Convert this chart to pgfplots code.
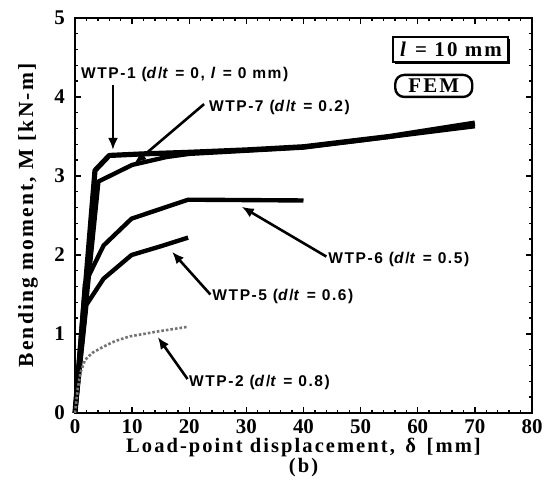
\documentclass[border=0pt]{standalone}
\usepackage{fontspec}
\setmainfont{Liberation Serif}
\setsansfont{Liberation Sans}
\newfontfamily\lblfont[LetterSpace=10]{Liberation Serif}
\newfontfamily\annfont[LetterSpace=10]{Liberation Sans}
\usepackage{pgfplots}
\pgfplotsset{compat=1.18}
\usetikzlibrary{arrows.meta,shadows}

\begin{document}
\begin{tikzpicture}
\begin{axis}[
  name=ax,
  scale only axis, width=228.5bp, height=197.5bp,
  xmin=0, xmax=80, ymin=0, ymax=5,
  xtick={0,10,...,80}, ytick={0,1,...,5},
  minor x tick num=4, minor y tick num=4,
  major tick length=3bp, minor tick length=1.6bp,
  axis line style={line width=1.1pt},
  every tick/.style={black, line width=0.7pt},
  tick label style={font=\fontsize{10.5}{12}\selectfont\bfseries},
  yticklabel style={xshift=-1.5bp},
  /pgf/number format/assume math mode=true,
  xlabel={Load-point displacement, \,δ\, [mm]},
  every axis x label/.style={at={(axis description cs:0.5,-0.088)}, anchor=center,
    font=\lblfont\fontsize{10.3}{11}\selectfont\bfseries},
  ylabel={Bending moment, M [kN-m]},
  every axis y label/.style={at={(axis description cs:-0.103,0.5)}, anchor=center, rotate=90,
    font=\lblfont\fontsize{10.8}{12}\selectfont\bfseries},
  clip=false,
]
% WTP-1
\addplot[black, line width=2.6pt, line join=round] coordinates {
 (0,0) (3.5,3.07) (6,3.26) (12,3.28) (20,3.30) (30,3.33) (40,3.37) (55,3.50) (70,3.67)};
% WTP-7
\addplot[black, line width=2.2pt, line join=round] coordinates {
 (0,0) (4.1,2.93) (10,3.14) (16,3.24) (20,3.28) (40,3.36) (70,3.63)};
% WTP-6
\addplot[black, line width=2.2pt, line join=round] coordinates {
 (0,0) (1.75,1.64) (5,2.12) (9.9,2.46) (19.8,2.70) (40,2.69)};
% WTP-5
\addplot[black, line width=2.2pt, line join=round] coordinates {
 (0,0) (2.0,1.37) (5,1.70) (9.9,2.00) (15,2.11) (19.8,2.22)};
% WTP-2
\addplot[black!55, line width=1.3pt, densely dotted, line join=round] coordinates {
 (0,0) (0.5,0.32) (1,0.52) (1.75,0.67) (3,0.76) (5,0.84) (7,0.91) (9.6,0.97) (12,1.00) (14.3,1.03) (17,1.06) (19.6,1.09)};

% annotations
\begin{scope}[font=\annfont\bfseries\fontsize{7.8}{9}\selectfont]
\node[anchor=west, inner sep=0pt] at (axis cs:1.0,4.28) {WTP-1 (\textit{d}/\textit{t} = 0, \textit{l} = 0 mm)};
\draw[line width=1.3pt, -{Latex[length=6pt,width=5pt]}] (axis cs:6.65,4.15) -- (axis cs:6.65,3.33);
\node[anchor=west, inner sep=0pt] at (axis cs:23.4,3.87) {WTP-7 (\textit{d}/\textit{t} = 0.2)};
\draw[line width=1.3pt, -{Latex[length=6pt,width=5pt]}] (axis cs:22.6,3.91) -- (axis cs:10.4,3.16);
\node[anchor=west, inner sep=0pt] at (axis cs:44.3,1.94) {WTP-6 (\textit{d}/\textit{t} = 0.5)};
\draw[line width=1.3pt, -{Latex[length=6pt,width=5pt]}] (axis cs:44.0,1.98) -- (axis cs:29.2,2.61);
\node[anchor=west, inner sep=0pt] at (axis cs:24.0,1.47) {WTP-5 (\textit{d}/\textit{t} = 0.6)};
\draw[line width=1.3pt, -{Latex[length=6pt,width=5pt]}] (axis cs:23.7,1.50) -- (axis cs:17.0,2.04);
\node[anchor=west, inner sep=0pt] at (axis cs:19.9,0.39) {WTP-2 (\textit{d}/\textit{t} = 0.8)};
\draw[line width=1.3pt, -{Latex[length=6pt,width=5pt]}] (axis cs:19.7,0.43) -- (axis cs:14.5,0.96);
\end{scope}
\node[draw, fill=white, line width=1.1pt, minimum width=57.5bp, minimum height=12.5bp, inner sep=1pt,
  drop shadow={opacity=1, fill=black, shadow xshift=0.9pt, shadow yshift=-0.9pt},
  font=\lblfont\fontsize{10.5}{12}\selectfont\bfseries] at (axis cs:65.8,4.60) {\textit{l} = 10 mm};
\node[draw, line width=1.2pt, rounded corners=4.5pt, minimum width=38.5bp, minimum height=11bp, inner sep=1pt,
  font=\lblfont\fontsize{10.5}{12}\selectfont\bfseries] at (axis cs:62.8,4.14) {FEM};
\node[font=\lblfont\fontsize{10.3}{11}\selectfont\bfseries] at (axis description cs:0.5,-0.139) {(b)};
\end{axis}
\pgfresetboundingbox
\path ([shift={(-37.5bp,-38bp)}]ax.south west) rectangle ([shift={(9bp,9bp)}]ax.north east);
\end{tikzpicture}
\end{document}
